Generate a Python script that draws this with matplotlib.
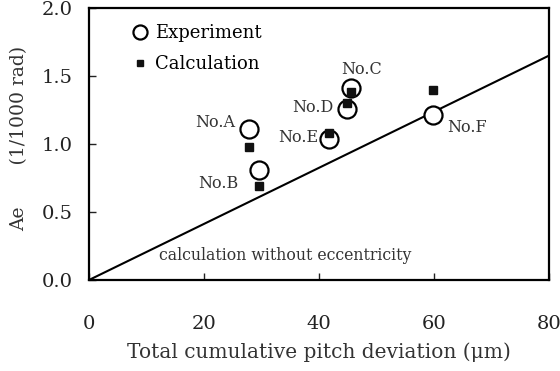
import matplotlib.pyplot as plt
import numpy as np

# Experiment vs calculation of Ae for gear samples A-F
samples = ["No.A", "No.B", "No.C", "No.D", "No.E", "No.F"]
pitch_dev = [27.8, 29.6, 45.6, 44.9, 41.7, 59.8]
ae_experiment = [1.11, 0.81, 1.41, 1.26, 1.04, 1.21]
ae_calculation = [0.98, 0.69, 1.38, 1.30, 1.08, 1.40]

# calculation without eccentricity (straight line through origin)
line_x = [0, 80]
line_y = [0, 1.65]

# label offsets from the experiment circle (data units) + alignment
label_pos = {"No.A": (-2.4, 0.045, 'right'), "No.B": (-3.6, -0.10, 'right'),
             "No.C": (1.8, 0.14, 'center'), "No.D": (-2.4, 0.01, 'right'),
             "No.E": (-1.8, 0.01, 'right'), "No.F": (2.5, -0.09, 'left')}

plt.rcParams['font.family'] = ['DejaVu Serif']
plt.rcParams['mathtext.fontset'] = 'dejavuserif'

fig = plt.figure(figsize=(5.6, 3.71), dpi=100)
ax = fig.add_axes([89 / 560, 1 - 280 / 371, 460 / 560, 272 / 371])

ax.plot(line_x, line_y, color='black', lw=1.5, zorder=1)
ax.plot(pitch_dev, ae_experiment, 'o', ms=13, mfc='white', mec='black', mew=1.6,
        label='Experiment', zorder=2)
ax.plot(pitch_dev, ae_calculation, 's', ms=5.5, color='#111111',
        label='Calculation', zorder=3)

for name, x, y in zip(samples, pitch_dev, ae_experiment):
    dx, dy, ha = label_pos[name]
    ax.text(x + dx, y + dy, name, fontsize=11.5, color='#333333', ha=ha, va='center')

ax.text(34.1, 0.18, 'calculation without eccentricity', fontsize=11.3, color='#333333',
        ha='center', va='center')

ax.set_xlim(0, 80)
ax.set_ylim(0, 2.0)
ax.set_xticks([0, 20, 40, 60, 80])
ax.set_yticks([0, 0.5, 1.0, 1.5, 2.0])
ax.set_yticklabels(['0.0', '0.5', '1.0', '1.5', '2.0'])
ax.tick_params(direction='in', length=5, width=1, labelsize=14, colors='#222222')
ax.tick_params(axis='x', pad=25)
ax.tick_params(axis='y', pad=12)
for s in ax.spines.values():
    s.set_linewidth(1.6)

ax.set_xlabel('Total cumulative pitch deviation (μm)', fontsize=14.5, color='#333333', labelpad=7)
ax.set_ylabel('Ae       (1/1000 rad)', fontsize=13.5, color='#333333')
ax.yaxis.set_label_coords(-0.133, 0.52)

ax.legend(loc='upper left', bbox_to_anchor=(0.057, 1.0), frameon=False, fontsize=13,
          handlelength=1.0, handletextpad=0.3, borderaxespad=0.5, labelspacing=0.7,
          markerscale=0.78)

fig.savefig('out.png', dpi=100)
